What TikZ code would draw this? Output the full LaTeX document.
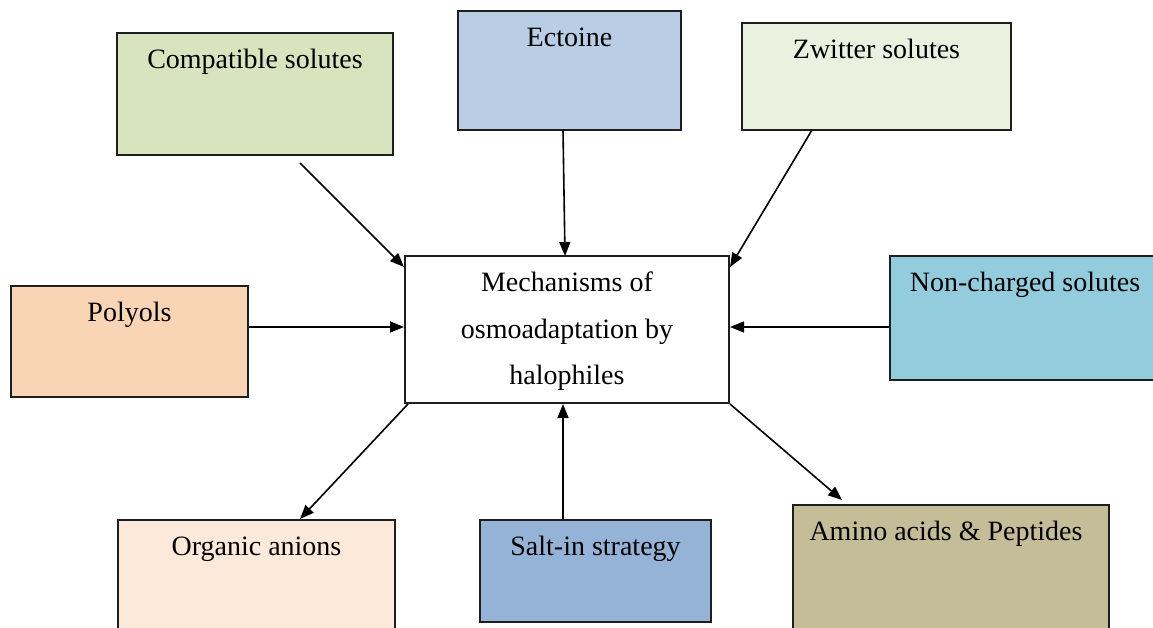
\documentclass[tikz,border=0pt]{standalone}
\usepackage{fontspec}
\setmainfont{Liberation Serif}
\usetikzlibrary{arrows.meta}
\definecolor{cCompat}{HTML}{D7E4BD}
\definecolor{cEctoine}{HTML}{B9CDE5}
\definecolor{cZwitter}{HTML}{EBF1DF}
\definecolor{cPolyols}{HTML}{FAD5B5}
\definecolor{cNoncharged}{HTML}{93CDDD}
\definecolor{cOrganic}{HTML}{FDE9D9}
\definecolor{cSaltin}{HTML}{95B3D7}
\definecolor{cAmino}{HTML}{C4BD97}
\definecolor{cEdge}{HTML}{1E1E1E}
\tikzset{
  box/.style={draw=cEdge, line width=2pt, rectangle, inner sep=0pt},
  lbl/.style={anchor=base, inner sep=0pt, font=\fontsize{28}{33}\selectfont},
  link/.style={line width=1.6pt, -{Triangle[length=14pt,width=11pt]}}
}
\begin{document}
\begin{tikzpicture}[x=1pt,y=-1pt]
\useasboundingbox (0,0) rectangle (1153,627);
\fill[white] (0,0) rectangle (1153,627);

% surrounding boxes
\node[box, fill=cCompat, minimum width=276pt, minimum height=122pt] (compat) at (255,94) {};
\node[box, fill=cEctoine, minimum width=223pt, minimum height=119pt] (ectoine) at (569.5,70.5) {};
\node[box, fill=cZwitter, minimum width=269pt, minimum height=107pt] (zwitter) at (876.5,76.5) {};
\node[box, fill=cPolyols, minimum width=237pt, minimum height=111pt] (polyols) at (129.5,341.5) {};
\node[box, fill=cNoncharged, minimum width=270pt, minimum height=124pt] (noncharged) at (1025,318) {};
\node[box, fill=cOrganic, minimum width=277pt, minimum height=120pt] (organic) at (256.5,580) {};
\node[box, fill=cSaltin, minimum width=231pt, minimum height=102pt] (saltin) at (595.5,571) {};
\node[box, fill=cAmino, minimum width=316pt, minimum height=135pt] (amino) at (951,572.5) {};

% central box
\node[box, fill=white, minimum width=324pt, minimum height=147pt] (center) at (567,329.5) {};

% labels
\node[lbl] (tCompat) at ([yshift=-36pt]compat.north) {Compatible solutes};
\node[lbl] (tEctoine) at ([yshift=-36pt]ectoine.north) {Ectoine};
\node[lbl] (tZwitter) at ([yshift=-36pt]zwitter.north) {Zwitter solutes};
\node[lbl] (tPolyols) at ([yshift=-36pt]polyols.north) {Polyols};
\node[lbl] (tNoncharged) at ([yshift=-36pt]noncharged.north) {Non-charged solutes};
\node[lbl] (tOrganic) at ([yshift=-36pt]organic.north) {Organic anions};
\node[lbl] (tSaltin) at ([yshift=-36pt]saltin.north) {Salt-in strategy};
\node[lbl] (tAmino) at ([xshift=-5pt,yshift=-36pt]amino.north) {Amino acids \& Peptides};
\node[lbl, anchor=north, align=center, font=\fontsize{28}{46.5}\selectfont] (tCenter) at ([yshift=-17pt]center.north)
  {Mechanisms of\\osmoadaptation by\\halophiles};

% anchor points on the box edges
\coordinate (cTL) at (center.north west);
\coordinate (cTR) at (center.north east);
\coordinate (cBL) at (center.south west);
\coordinate (cBR) at (center.south east);
\coordinate (sCompat) at (300,163);
\coordinate (sZwitter) at (812,130);
\coordinate (eAmino) at (842,500);

% connectors
\draw[link] (sCompat) -- ([yshift=-12pt]cTL);
\draw[link] (563,130) -- (565,256);
\draw[link] (sZwitter) -- ([yshift=-12pt]cTR);
\draw[link] (polyols.east |- 0,327) -- (center.west |- 0,327);
\draw[link] (noncharged.west |- 0,327) -- (center.east |- 0,327);
\draw[link] ([xshift=4pt]cBL) -- (organic.north -| 300,0);
\draw[link] (saltin.north -| 563,0) -- (center.south -| 563,0);
\draw[link] (cBR) -- (eAmino);
\end{tikzpicture}
\end{document}
